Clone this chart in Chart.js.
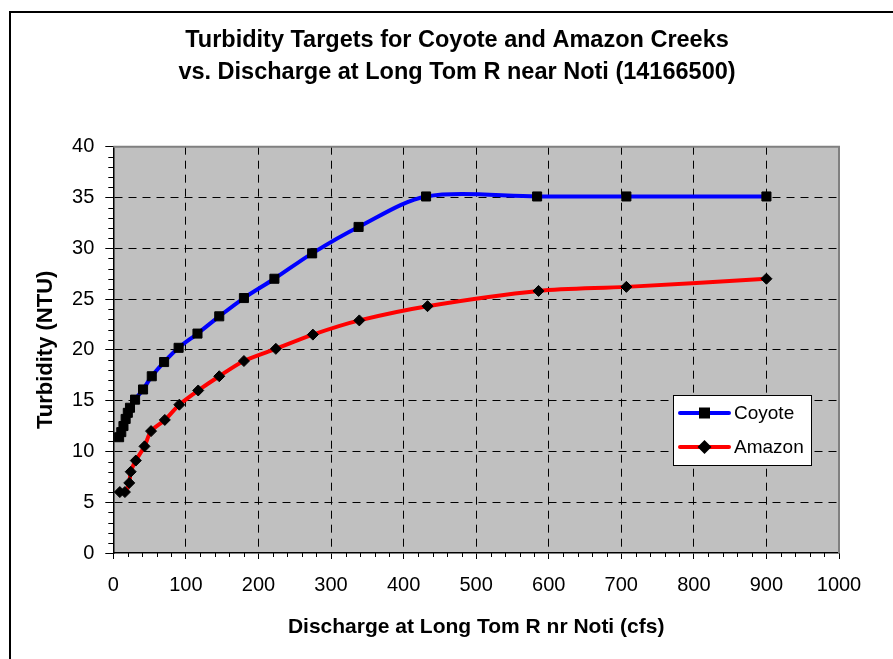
<!DOCTYPE html>
<html>
<head>
<meta charset="utf-8">
<title>Turbidity Targets</title>
<script src="https://cdn.jsdelivr.net/npm/chart.js@4.4.1/dist/chart.umd.min.js"></script>
<style>
    body { margin: 0; background: #fff; }
    #wrap { position: relative; width: 893px; height: 659px; }
</style>
</head>
<body>
<div id="wrap"><canvas id="turbidityChart"></canvas></div>
<script>
// Data
const coyoteX = [8, 11, 14, 17, 20, 23, 30, 41, 53, 70, 90, 116, 146, 180, 222, 274, 338, 431, 584, 707, 900];
const coyoteY = [11.4, 11.9, 12.5, 13.2, 13.8, 14.3, 15.1, 16.1, 17.4, 18.8, 20.2, 21.6, 23.3, 25.1, 27.0, 29.5, 32.1, 35.1, 35.1, 35.1, 35.1];

const amazonX = [9, 16, 22, 24, 31, 43, 52, 71, 91, 117, 146, 180, 224, 275, 339, 433, 586, 707, 900];
const amazonY = [6.0, 6.0, 6.9, 8.0, 9.1, 10.5, 12.0, 13.1, 14.6, 16.0, 17.4, 18.9, 20.1, 21.5, 22.9, 24.3, 25.8, 26.2, 27.0];

const xTicks = [0, 100, 200, 300, 400, 500, 600, 700, 800, 900, 1000];
const yTicks = [0, 5, 10, 15, 20, 25, 30, 35, 40];

const titleLines = ['Turbidity Targets for Coyote and Amazon Creeks', 'vs. Discharge at Long Tom R near Noti (14166500)'];

const FONT = '"Liberation Sans", Arial, sans-serif';

const toPoints = (xs, ys) => xs.map((x, i) => ({ x: x, y: ys[i] }));

// Outer frame, title, plot background and border
const framePlugin = {
    id: 'frame',
    beforeDraw(chart) {
        const ctx = chart.ctx;
        const a = chart.chartArea;
        ctx.save();
        ctx.fillStyle = '#fff';
        ctx.fillRect(0, 0, chart.width, chart.height);
        ctx.strokeStyle = '#000';
        ctx.lineWidth = 2;
        ctx.strokeRect(10, 12, chart.width + 20, chart.height + 20);
        ctx.fillStyle = '#c0c0c0';
        ctx.fillRect(a.left, a.top, a.right - a.left, a.bottom - a.top);

        // chart title
        ctx.fillStyle = '#000';
        ctx.font = 'bold 23.5px ' + FONT;
        ctx.textAlign = 'center';
        ctx.textBaseline = 'middle';
        titleLines.forEach((t, i) => ctx.fillText(t, 457, 41 + i * 31.7));
        ctx.restore();
    },
    beforeDatasetsDraw(chart) {
        const ctx = chart.ctx;
        const a = chart.chartArea;
        ctx.save();
        ctx.strokeStyle = '#808080';
        ctx.lineWidth = 2;
        ctx.beginPath();
        ctx.moveTo(a.left, a.top);
        ctx.lineTo(a.right, a.top);
        ctx.lineTo(a.right, a.bottom);
        ctx.stroke();

        // minor ticks
        ctx.strokeStyle = '#000';
        ctx.lineWidth = 1;
        ctx.beginPath();
        const xs = chart.scales.x, ys = chart.scales.y;
        for (let v = 20; v < 1000; v += 20) {
            if (v % 100 === 0) continue;
            const px = Math.round(xs.getPixelForValue(v)) + 0.5;
            ctx.moveTo(px, a.bottom);
            ctx.lineTo(px, a.bottom + 4);
        }
        for (let v = 1; v < 40; v++) {
            if (v % 5 === 0) continue;
            const py = Math.round(ys.getPixelForValue(v)) + 0.5;
            ctx.moveTo(a.left, py);
            ctx.lineTo(a.left - 5, py);
        }
        ctx.stroke();
        ctx.restore();
    }
};

// Legend box inside the plot
const legendPlugin = {
    id: 'boxLegend',
    afterDraw(chart) {
        const ctx = chart.ctx;
        const box = { x: 673.5, y: 395.5, w: 138, h: 70 };
        ctx.save();
        ctx.fillStyle = '#fff';
        ctx.fillRect(box.x, box.y, box.w, box.h);
        ctx.strokeStyle = '#000';
        ctx.lineWidth = 1;
        ctx.strokeRect(box.x, box.y, box.w, box.h);

        const rows = [413, 447];
        chart.data.datasets.forEach((ds, i) => {
            const y = rows[i];
            ctx.strokeStyle = ds.borderColor;
            ctx.lineWidth = 4;
            ctx.lineCap = 'round';
            ctx.beginPath();
            ctx.moveTo(680, y);
            ctx.lineTo(729, y);
            ctx.stroke();

            const cx = 704.5;
            ctx.fillStyle = '#000';
            ctx.beginPath();
            if (ds.pointStyle === 'rect') {
                ctx.rect(cx - 5.5, y - 5.5, 11, 11);
            } else {
                ctx.moveTo(cx - 7, y);
                ctx.lineTo(cx, y - 7);
                ctx.lineTo(cx + 7, y);
                ctx.lineTo(cx, y + 7);
                ctx.closePath();
            }
            ctx.fill();

            ctx.fillStyle = '#000';
            ctx.font = '19px ' + FONT;
            ctx.textBaseline = 'middle';
            ctx.textAlign = 'left';
            ctx.fillText(ds.label, 734, y + 1);
        });
        ctx.restore();
    }
};

const edgeColor = (max) => (c) => (c.tick && (c.tick.value === 0 || c.tick.value === max)) ? 'rgba(0,0,0,0)' : '#000';

new Chart(document.getElementById('turbidityChart'), {
    type: 'line',
    data: {
        datasets: [{
            label: 'Coyote',
            data: toPoints(coyoteX, coyoteY),
            borderColor: '#0000ff',
            borderWidth: 4,
            pointStyle: 'rect',
            pointRadius: 6.4,
            pointBackgroundColor: '#000',
            pointBorderColor: '#000',
            pointBorderWidth: 1,
            tension: 0.3
        }, {
            label: 'Amazon',
            data: toPoints(amazonX, amazonY),
            borderColor: '#ff0000',
            borderWidth: 4,
            pointStyle: 'rectRot',
            pointRadius: 5.5,
            pointBackgroundColor: '#000',
            pointBorderColor: '#000',
            pointBorderWidth: 1,
            tension: 0.3
        }]
    },
    options: {
        responsive: true,
        maintainAspectRatio: false,
        animation: false,
        devicePixelRatio: 1,
        layout: { padding: { top: 146.7, right: 54, left: 0, bottom: 0 } },
        plugins: {
            legend: { display: false },
            tooltip: { enabled: false },
            title: { display: false }
        },
        scales: {
            x: {
                type: 'linear',
                min: 0,
                max: 1000,
                afterBuildTicks: (s) => { s.ticks = xTicks.map(v => ({ value: v })); },
                afterFit: (s) => { s.height = 106; },
                ticks: {
                    color: '#000',
                    padding: 14,
                    maxRotation: 0,
                    callback: (v) => String(v),
                    font: { family: FONT, size: 20 }
                },
                grid: {
                    color: edgeColor(1000),
                    lineWidth: 1,
                    tickColor: '#000',
                    tickLength: 6,
                    tickBorderDash: []
                },
                border: { color: '#000', width: 1.5, dash: [8, 6] },
                title: {
                    display: true,
                    text: 'Discharge at Long Tom R nr Noti (cfs)',
                    color: '#000',
                    font: { family: FONT, size: 21, weight: 'bold', lineHeight: 1.2 },
                    padding: { top: 0, bottom: 19 }
                }
            },
            y: {
                type: 'linear',
                min: 0,
                max: 40,
                afterBuildTicks: (s) => { s.ticks = yTicks.map(v => ({ value: v })); },
                afterFit: (s) => { s.width = 113.3; },
                ticks: {
                    color: '#000',
                    padding: 11,
                    callback: (v) => String(v),
                    font: { family: FONT, size: 20 }
                },
                grid: {
                    color: edgeColor(40),
                    lineWidth: 1,
                    tickColor: '#000',
                    tickLength: 8,
                    tickBorderDash: []
                },
                border: { color: '#000', width: 1.5, dash: [8, 6] },
                title: {
                    display: true,
                    text: 'Turbidity (NTU)',
                    color: '#000',
                    font: { family: FONT, size: 22, weight: 'bold', lineHeight: 1.2 },
                    padding: { top: 33, bottom: 0 }
                }
            }
        }
    },
    plugins: [framePlugin, legendPlugin]
});
</script>
</body>
</html>
